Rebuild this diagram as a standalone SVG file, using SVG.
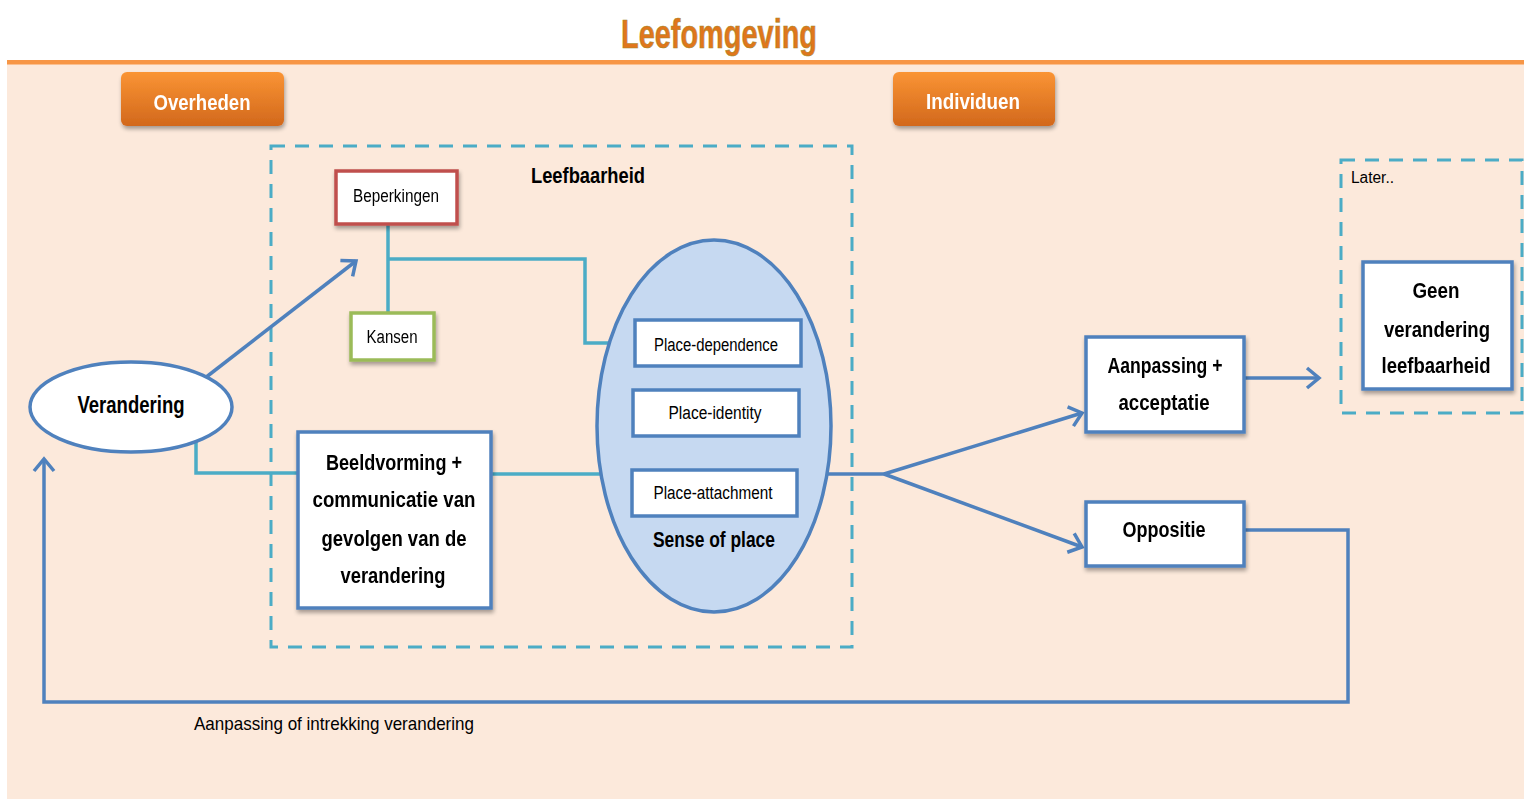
<svg xmlns="http://www.w3.org/2000/svg" width="1528" height="799" viewBox="0 0 1528 799">
<defs>
<style>
.t{font-family:"Liberation Sans Narrow","Liberation Sans",Arial,sans-serif;fill:#000;}
.b{font-weight:bold;}
.box{fill:#fff;stroke:#4F81BD;stroke-width:3.5;}
.dash{fill:none;stroke:#4BACC6;stroke-width:3;stroke-dasharray:14 10;}
.teal{fill:none;stroke:#4BACC6;stroke-width:3.5;}
.blue{fill:none;stroke:#4F81BD;stroke-width:3.5;}
.btn{fill:url(#og);}
</style>
<linearGradient id="og" x1="0" y1="0" x2="0" y2="1">
<stop offset="0" stop-color="#FA9434"/>
<stop offset="1" stop-color="#D2681C"/>
</linearGradient>
<filter id="sh" x="-20%" y="-20%" width="140%" height="150%">
<feGaussianBlur in="SourceAlpha" stdDeviation="2"/>
<feOffset dx="1" dy="3" result="o"/>
<feComponentTransfer><feFuncA type="linear" slope="0.35"/></feComponentTransfer>
<feMerge><feMergeNode/><feMergeNode in="SourceGraphic"/></feMerge>
</filter>
<marker id="ah" markerUnits="userSpaceOnUse" markerWidth="24" markerHeight="24" viewBox="0 0 24 24" refX="20" refY="12" orient="auto">
<path d="M8,2 L20,12 L8,22" fill="none" stroke="#4F81BD" stroke-width="3.5" stroke-linejoin="miter"/>
</marker>
</defs>
<rect x="0" y="0" width="1528" height="799" fill="#fff"/>
<rect x="7" y="62" width="1517" height="737" fill="#FCE9DB"/>
<rect x="7" y="60" width="1517" height="4.5" fill="#F79646"/>
<text x="719" y="48" text-anchor="middle" class="t b" style="fill:#E0761C;stroke:#A38A2A;stroke-width:0.6" font-size="40" textLength="196" lengthAdjust="spacingAndGlyphs">Leefomgeving</text>

<g id="overheden" filter="url(#sh)">
<rect x="121" y="72" width="163" height="54" rx="6" class="btn"/>
<text x="202" y="110" text-anchor="middle" class="t b" style="fill:#fff" font-size="22" textLength="97" lengthAdjust="spacingAndGlyphs">Overheden</text>
</g>
<g id="individuen" filter="url(#sh)">
<rect x="893" y="72" width="162" height="54" rx="6" class="btn"/>
<text x="973" y="109" text-anchor="middle" class="t b" style="fill:#fff" font-size="22" textLength="94" lengthAdjust="spacingAndGlyphs">Individuen</text>
</g>

<g id="leefbaarheid">
<rect x="271" y="146" width="581" height="501" class="dash"/>
<text x="588" y="183" text-anchor="middle" class="t b" font-size="22" textLength="114" lengthAdjust="spacingAndGlyphs">Leefbaarheid</text>
</g>
<g id="later">
<rect x="1341" y="160" width="181" height="253" class="dash"/>
<text x="1351" y="183" class="t" font-size="16" textLength="43" lengthAdjust="spacingAndGlyphs">Later..</text>
</g>

<g id="connectors">
<polyline points="388,224 388,312" class="teal"/>
<polyline points="388,259 585,259 585,343 636,343" class="teal"/>
<polyline points="196,440 196,473 298,473" class="teal"/>
<polyline points="491,474 600,474" class="teal"/>
<line x1="205" y1="378" x2="356" y2="261" class="blue" marker-end="url(#ah)"/>
<polyline points="827,474 884,474" class="blue"/>
<line x1="884" y1="474" x2="1082" y2="413" class="blue" marker-end="url(#ah)"/>
<line x1="884" y1="474" x2="1082" y2="547" class="blue" marker-end="url(#ah)"/>
<line x1="1245" y1="378" x2="1319" y2="378" class="blue" marker-end="url(#ah)"/>
<polyline points="1245,530 1348,530 1348,702 44,702 44,459" class="blue" marker-end="url(#ah)"/>
<text x="194" y="730" class="t" font-size="19" textLength="280" lengthAdjust="spacingAndGlyphs">Aanpassing of intrekking verandering</text>
</g>

<g id="beperkingen" filter="url(#sh)">
<rect x="336" y="171" width="121" height="53" fill="#fff" stroke="#C0504D" stroke-width="3.5"/>
<text x="396" y="202" text-anchor="middle" class="t" font-size="18" textLength="86" lengthAdjust="spacingAndGlyphs">Beperkingen</text>
</g>
<g id="kansen" filter="url(#sh)">
<rect x="351" y="313" width="83" height="47" fill="#fff" stroke="#9BBB59" stroke-width="3.5"/>
<text x="392" y="343" text-anchor="middle" class="t" font-size="18" textLength="51" lengthAdjust="spacingAndGlyphs">Kansen</text>
</g>
<g id="verandering">
<ellipse cx="131" cy="407" rx="101" ry="45" fill="#fff" stroke="#4F81BD" stroke-width="3.5"/>
<text x="131" y="413" text-anchor="middle" class="t b" font-size="24" textLength="107" lengthAdjust="spacingAndGlyphs">Verandering</text>
</g>
<g id="beeldvorming" filter="url(#sh)">
<rect x="298" y="432" width="193" height="176" class="box"/>
<text x="394" y="470" text-anchor="middle" class="t b" font-size="22" textLength="136" lengthAdjust="spacingAndGlyphs">Beeldvorming +</text>
<text x="394" y="507" text-anchor="middle" class="t b" font-size="22" textLength="163" lengthAdjust="spacingAndGlyphs">communicatie  van</text>
<text x="394" y="546" text-anchor="middle" class="t b" font-size="22" textLength="145" lengthAdjust="spacingAndGlyphs">gevolgen van de</text>
<text x="393" y="583" text-anchor="middle" class="t b" font-size="22" textLength="105" lengthAdjust="spacingAndGlyphs">verandering</text>
</g>
<g id="senseofplace">
<ellipse cx="714" cy="426" rx="117" ry="186" fill="#C6D9F1" stroke="#4F81BD" stroke-width="3.5"/>
<text x="714" y="547" text-anchor="middle" class="t b" font-size="22" textLength="122" lengthAdjust="spacingAndGlyphs">Sense of place</text>
</g>
<g id="place-dependence">
<rect x="635" y="320" width="166" height="46" class="box"/>
<text x="716" y="351" text-anchor="middle" class="t" font-size="18" textLength="124" lengthAdjust="spacingAndGlyphs">Place-dependence</text>
</g>
<g id="place-identity">
<rect x="633" y="390" width="166" height="46" class="box"/>
<text x="715" y="419" text-anchor="middle" class="t" font-size="18" textLength="93" lengthAdjust="spacingAndGlyphs">Place-identity</text>
</g>
<g id="place-attachment">
<rect x="632" y="470" width="165" height="46" class="box"/>
<text x="713" y="499" text-anchor="middle" class="t" font-size="18" textLength="119" lengthAdjust="spacingAndGlyphs">Place-attachment</text>
</g>
<g id="aanpassing" filter="url(#sh)">
<rect x="1086" y="337" width="158" height="95" class="box"/>
<text x="1165" y="373" text-anchor="middle" class="t b" font-size="22" textLength="115" lengthAdjust="spacingAndGlyphs">Aanpassing +</text>
<text x="1164" y="410" text-anchor="middle" class="t b" font-size="22" textLength="91" lengthAdjust="spacingAndGlyphs">acceptatie</text>
</g>
<g id="oppositie" filter="url(#sh)">
<rect x="1086" y="502" width="158" height="64" class="box"/>
<text x="1164" y="537" text-anchor="middle" class="t b" font-size="22" textLength="83" lengthAdjust="spacingAndGlyphs">Oppositie</text>
</g>
<g id="geen" filter="url(#sh)">
<rect x="1363" y="262" width="149" height="127" class="box"/>
<text x="1436" y="298" text-anchor="middle" class="t b" font-size="22" textLength="47" lengthAdjust="spacingAndGlyphs">Geen</text>
<text x="1437" y="337" text-anchor="middle" class="t b" font-size="22" textLength="106" lengthAdjust="spacingAndGlyphs">verandering</text>
<text x="1436" y="373" text-anchor="middle" class="t b" font-size="22" textLength="109" lengthAdjust="spacingAndGlyphs">leefbaarheid</text>
</g>
</svg>
